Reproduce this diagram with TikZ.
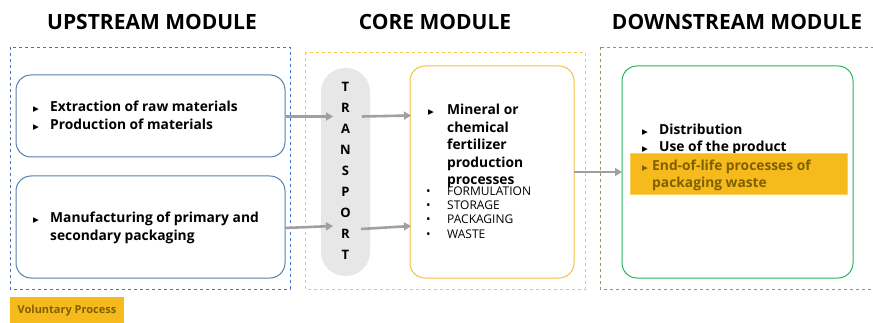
\documentclass[tikz,border=0pt]{standalone}
\usepackage{fontspec}
\setmainfont{Open Sans}
\newfontfamily\symf{DejaVu Sans}
\usetikzlibrary{arrows.meta}
\definecolor{upblue}{HTML}{4472C4}
\definecolor{boxblue}{HTML}{5A7FB0}
\definecolor{coregold}{HTML}{F2C84B}
\definecolor{boxgold}{HTML}{F5C242}
\definecolor{dngreen}{HTML}{7FA060}
\definecolor{boxgreen}{HTML}{2DB35A}
\definecolor{tgray}{HTML}{E7E7E7}
\definecolor{arrgray}{HTML}{A0A0A0}
\definecolor{volfill}{HTML}{F6BA1C}
\definecolor{voltext}{HTML}{7F6000}
\newcommand{\tri}{{\symf\fontsize{7.5}{7.5}\selectfont ▶}}
\newcommand{\bul}[1]{\makebox[#1][l]{\tri}}
\newcommand{\dotb}{\makebox[20pt][l]{\hspace{-1pt}\textbullet}}
\begin{document}
\begin{tikzpicture}[x=1pt,y=-1pt,
  title/.style={font=\fontsize{21}{24}\selectfont\bfseries, anchor=base},
  modbox/.style={dashed, line width=0.8pt},
  procbox/.style={rounded corners=15pt, line width=1pt, fill=white},
  btxt/.style={font=\fontsize{13.8}{17}\selectfont\bfseries, anchor=base west, inner sep=0pt},
  stxt/.style={font=\fontsize{12}{14}\selectfont, anchor=base west, inner sep=0pt},
  flow/.style={draw=arrgray, line width=2.6pt, -{Triangle[length=7pt,width=8pt]}},
]
\useasboundingbox (0,0) rectangle (873,323);
% titles
\node[title] (t1) at (152,30) {UPSTREAM MODULE};
\node[title] (t2) at (435,30) {CORE MODULE};
\node[title] (t3) at (737,30) {DOWNSTREAM MODULE};
% module frames
\draw[modbox, draw=upblue] (10,47) rectangle (290,289);
\draw[modbox, draw=coregold] (305,52) rectangle (585,289);
\draw[modbox, draw=dngreen] (600,47) rectangle (873,289);
% upstream boxes
\node[procbox, draw=boxblue, minimum width=269pt, minimum height=82pt] (u1) at (150.5,116) {};
\node[procbox, draw=boxblue, minimum width=269pt, minimum height=102pt] (u2) at (150.5,227) {};
\node[btxt] (u1a) at (33,112) {\bul{17pt}Extraction of raw materials};
\node[btxt] (u1b) at (33,130) {\bul{17pt}Production of materials};
\node[btxt] (u2a) at (33,223) {\bul{17pt}Manufacturing of primary and};
\node[btxt] (u2b) at (50,241) {secondary packaging};
% transport
\node[fill=tgray, rounded corners=24pt, minimum width=49pt, minimum height=208pt, inner sep=0pt] (tr) at (345.5,172) {};
\node[font=\fontsize{13}{21}\selectfont\bfseries, align=center, anchor=north, inner sep=0pt] (trt) at (345.5,82) {T\\R\\A\\N\\S\\P\\O\\R\\T};
% core box
\node[procbox, draw=boxgold, minimum width=164pt, minimum height=212pt] (core) at (492,172) {};
\node[btxt] (c1) at (428,115) {\bul{19pt}Mineral or};
\node[btxt] (c2) at (447,133) {chemical};
\node[btxt] (c3) at (447,150) {fertilizer};
\node[btxt] (c4) at (447,168) {production};
\node[btxt] (c5) at (447,185) {processes};
\node[stxt] (s1) at (427,196) {\dotb FORMULATION};
\node[stxt] (s2) at (427,210) {\dotb STORAGE};
\node[stxt] (s3) at (427,224) {\dotb PACKAGING};
\node[stxt] (s4) at (427,239) {\dotb WASTE};
% downstream box
\node[procbox, draw=boxgreen, minimum width=231pt, minimum height=212pt] (dn) at (737.5,172) {};
\node[btxt] (d1) at (642,135) {\bul{17pt}Distribution};
\node[btxt] (d2) at (642,152) {\bul{17pt}Use of the product};
\node[fill=volfill, draw=volfill!70!white, line width=0.6pt, minimum width=217pt, minimum height=41pt, inner sep=0pt] (hl) at (738.5,173.5) {};
\node[btxt, text=voltext] (d3) at (642,171) {\bul{10pt}End-of-life processes of};
\node[btxt, text=voltext] (d4) at (652,188) {packaging waste};
% legend
\node[fill=volfill, minimum width=114pt, minimum height=28pt, inner sep=0pt, font=\fontsize{11}{12}\selectfont\bfseries, text=voltext] (leg) at (67,311) {Voluntary Process};
% arrows
\coordinate (a1s) at (285,116.5);
\coordinate (a1e) at (333,116.5);
\coordinate (a2s) at (362,116.5);
\coordinate (a2e) at (411,115.5);
\coordinate (a3s) at (285,228);
\coordinate (a3e) at (333,226);
\coordinate (a4s) at (361,229);
\coordinate (a4e) at (411,226);
\coordinate (a5s) at (574,172);
\coordinate (a5e) at (622,172);
\draw[flow] (a1s) -- (a1e);
\draw[flow] (a2s) -- (a2e);
\draw[flow] (a3s) -- (a3e);
\draw[flow] (a4s) -- (a4e);
\draw[flow] (a5s) -- (a5e);
\end{tikzpicture}
\end{document}
